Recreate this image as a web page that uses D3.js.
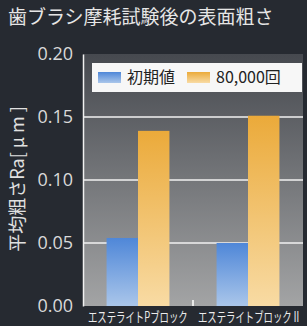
<!DOCTYPE html>
<html>
<head>
<meta charset="utf-8">
<script src="https://cdn.jsdelivr.net/npm/d3@7"></script>
<style>
  body { margin: 0; background: #262a31; }
  svg { display: block; }
</style>
</head>
<body>
<script>
// data
var categories = ["エステライトPブロック", "エステライトブロックⅡ"];
var seriesNames = ["初期値", "80,000回"];
var initialVals = [0.054, 0.050];
var after80k = [0.139, 0.151];
var yTicks = [0, 0.05, 0.10, 0.15, 0.20];

var W = 307, H = 326;
var m = {left: 83, right: 4, top: 54, bottom: 20};

var svg = d3.select("body").append("svg")
  .attr("width", W).attr("height", H)
  .style("font-family", "'Noto Sans CJK JP', 'Noto Sans', sans-serif");

var defs = svg.append("defs");
function grad(id, top, bottom) {
  var g = defs.append("linearGradient").attr("id", id)
    .attr("x1", 0).attr("y1", 0).attr("x2", 0).attr("y2", 1);
  g.append("stop").attr("offset", "0%").attr("stop-color", top);
  g.append("stop").attr("offset", "100%").attr("stop-color", bottom);
}
grad("bg", "#46494f", "#a3a4a5");
grad("blue", "#4f87d8", "#aac6ea");
grad("orange", "#ebaa3a", "#f8dba4");

var y = d3.scaleLinear().domain([0, 0.20]).range([H - m.bottom, m.top]);
var x0 = d3.scaleBand().domain(categories).range([m.left, W - m.right]);
var x1 = d3.scaleBand().domain(seriesNames).range([0, x0.bandwidth()]).paddingOuter(0.75);

// title
svg.append("text")
  .attr("x", 8).attr("y", 24)
  .attr("fill", "#e6e6e6")
  .style("font-size", "19px")
  .text("歯ブラシ摩耗試験後の表面粗さ");

// plot background
svg.append("rect")
  .attr("x", m.left).attr("y", y(0.20))
  .attr("width", W - m.right - m.left).attr("height", y(0) - y(0.20))
  .attr("fill", "url(#bg)");

// gridlines
svg.append("g").selectAll("line")
  .data(yTicks.filter(function(t) { return t > 0 && t < 0.2; }))
  .join("line")
  .attr("x1", m.left).attr("x2", W - m.right)
  .attr("y1", function(d) { return y(d); }).attr("y2", function(d) { return y(d); })
  .attr("stroke", "#f2f2f2").attr("stroke-width", 1.5);

// y axis
var yAxis = svg.append("g")
  .attr("transform", "translate(" + m.left + ",0)")
  .call(d3.axisLeft(y).tickValues(yTicks).tickFormat(d3.format(".2f")).tickSize(0).tickPadding(10));
yAxis.select(".domain").attr("stroke", "#f0f0f0").attr("stroke-width", 1.5);
yAxis.selectAll("text")
  .attr("fill", "#d9d9d9")
  .style("font-family", "'Open Sans', 'Noto Sans', sans-serif")
  .style("font-size", "18px");

// bars
var rows = categories.map(function(c, i) {
  return {cat: c, vals: [initialVals[i], after80k[i]]};
});
var fills = ["url(#blue)", "url(#orange)"];
svg.append("g").selectAll("g")
  .data(rows)
  .join("g")
  .attr("transform", function(d) { return "translate(" + x0(d.cat) + ",0)"; })
  .selectAll("rect")
  .data(function(d) { return d.vals.map(function(v, j) { return {key: seriesNames[j], v: v, j: j}; }); })
  .join("rect")
  .attr("x", function(d) { return x1(d.key); })
  .attr("width", x1.bandwidth())
  .attr("y", function(d) { return y(d.v); })
  .attr("height", function(d) { return y(0) - y(d.v); })
  .attr("fill", function(d) { return fills[d.j]; });

// small centre tick at bottom
svg.append("line")
  .attr("x1", x0(categories[1])).attr("x2", x0(categories[1]))
  .attr("y1", y(0) - 6).attr("y2", y(0))
  .attr("stroke", "#ffffff").attr("stroke-width", 1.5);

// x labels (condensed type, squeezed horizontally)
svg.append("g").selectAll("text")
  .data(categories)
  .join("text")
  .attr("transform", function(d) { return "translate(" + (x0(d) + 5) + "," + (H - 4) + ") scale(0.67,1)"; })
  .attr("fill", "#ececec")
  .style("font-size", "14px")
  .text(function(d) { return d; });

// y axis title
svg.append("text")
  .attr("transform", "translate(24," + 179 + ") rotate(-90)")
  .attr("text-anchor", "middle")
  .attr("fill", "#e0e0e0")
  .style("font-size", "18px")
  .text("平均粗さRa[ μ m ]");

// legend
var lg = svg.append("g").attr("transform", "translate(92,63)");
lg.append("rect").attr("width", 210).attr("height", 29).attr("fill", "#f7f7f7");
var legendX = [6, 95];
seriesNames.forEach(function(s, i) {
  lg.append("rect")
    .attr("x", legendX[i]).attr("y", 9)
    .attr("width", 23).attr("height", 11)
    .attr("fill", fills[i]);
  lg.append("text")
    .attr("x", legendX[i] + 29).attr("y", 20)
    .attr("fill", "#222")
    .style("font-size", "16px")
    .text(s);
});
</script>
</body>
</html>
